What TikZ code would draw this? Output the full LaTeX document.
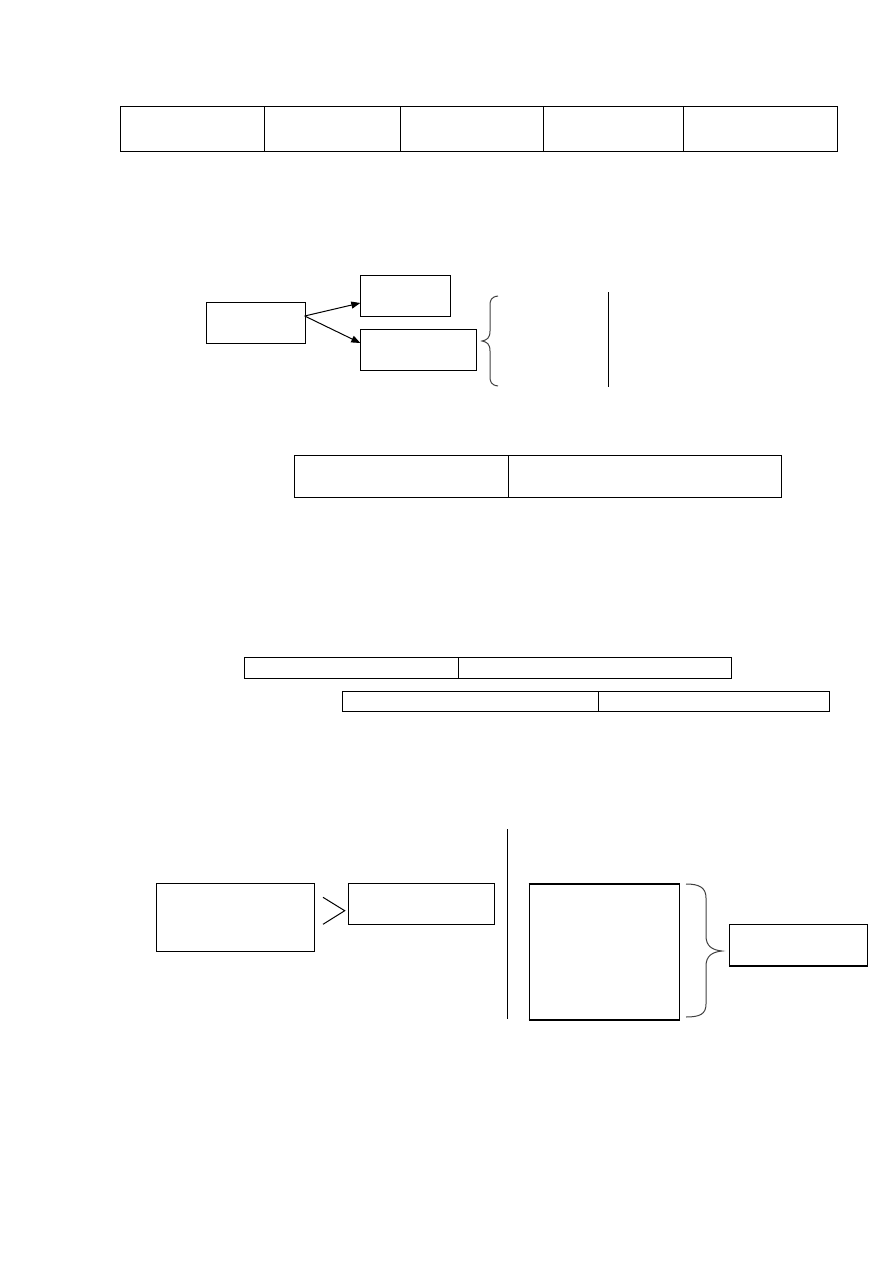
\documentclass[tikz,border=0pt]{standalone}
\usetikzlibrary{arrows.meta}
\begin{document}
\begin{tikzpicture}[x=1pt,y=-1pt,
  cell/.style={draw, line width=1.1pt, inner sep=0pt, anchor=north west},
  box/.style={draw, line width=1pt, inner sep=0pt, anchor=north west},
  ln/.style={line width=1pt},
  brc/.style={line width=1pt, draw=black!75},
  arr/.style={line width=1pt, -{Triangle[length=9pt,width=7pt]}}]
\useasboundingbox (0,0) rectangle (893,1263);
% top table
\node[cell, minimum width=144.6pt, minimum height=45.3pt] (t1) at (119.7,106) {};
\node[cell, minimum width=135.7pt, minimum height=45.3pt] (t2) at (264.3,106) {};
\node[cell, minimum width=143.3pt, minimum height=45.3pt] (t3) at (400,106) {};
\node[cell, minimum width=140pt, minimum height=45.3pt] (t4) at (543.3,106) {};
\node[cell, minimum width=154pt, minimum height=45.3pt] (t5) at (683.3,106) {};
% middle group
\node[box, minimum width=98.4pt, minimum height=41pt] (a) at (206.3,302.3) {};
\node[box, minimum width=90pt, minimum height=41.3pt] (b) at (360.3,275) {};
\node[box, minimum width=115.4pt, minimum height=41pt] (c) at (360.3,329.3) {};
\coordinate (as) at (304.7,316);
\coordinate (bt) at (360.3,303);
\coordinate (ct) at (360.3,343);
\draw[arr] (as) -- (bt);
\draw[arr] (as) -- (ct);
\coordinate (br1) at (498,296);
\draw[brc] (br1) .. controls (491,297) and (490,300) .. (490,306)
  -- (490,331) .. controls (490,338) and (487,340) .. (482,341)
  .. controls (487,342) and (490,344) .. (490,351)
  -- (490,376) .. controls (490,382) and (491,385) .. (498,386);
\coordinate (v1a) at (608,292);
\coordinate (v1b) at (608,387);
\draw[ln] (v1a) -- (v1b);
% table 2
\node[cell, minimum width=213.4pt, minimum height=42pt] (m1) at (294.3,455.3) {};
\node[cell, minimum width=273.3pt, minimum height=42pt] (m2) at (507.7,455.3) {};
% row tables
\node[cell, minimum width=213.4pt, minimum height=21pt] (r1) at (244.3,657.3) {};
\node[cell, minimum width=273.3pt, minimum height=21pt] (r2) at (457.7,657.3) {};
\node[cell, minimum width=256pt, minimum height=20.6pt] (s1) at (342.3,690.7) {};
\node[cell, minimum width=231pt, minimum height=20.6pt] (s2) at (598.3,690.7) {};
% bottom group
\node[box, minimum width=158pt, minimum height=67.7pt] (d) at (156.3,883.3) {};
\node[box, minimum width=146pt, minimum height=41pt] (e) at (348.3,883.3) {};
\coordinate (ch1) at (323,897.3);
\coordinate (ch2) at (344.7,910.7);
\coordinate (ch3) at (323,924.3);
\draw[ln] (ch1) -- (ch2) -- (ch3);
\coordinate (v2a) at (507.3,829.3);
\coordinate (v2b) at (507.3,1019);
\draw[ln] (v2a) -- (v2b);
\node[box, minimum width=150pt, minimum height=134.7pt] (f) at (528.7,884) {};
\draw[line width=2pt] (f.north west) -- (f.north east);
\draw[line width=2pt] (f.south west) -- (f.south east);
\coordinate (br2) at (686,884);
\draw[brc] (br2) .. controls (700,884) and (706,888) .. (706,898)
  -- (706,936) .. controls (706,946) and (712,950) .. (722,951)
  .. controls (712,952) and (706,956) .. (706,966)
  -- (706,1004) .. controls (706,1014) and (700,1017) .. (686,1017);
\node[box, minimum width=137.4pt, minimum height=40.7pt] (g) at (729.3,924.3) {};
\draw[line width=2pt] (g.south west) -- (g.south east);
\end{tikzpicture}
\end{document}
